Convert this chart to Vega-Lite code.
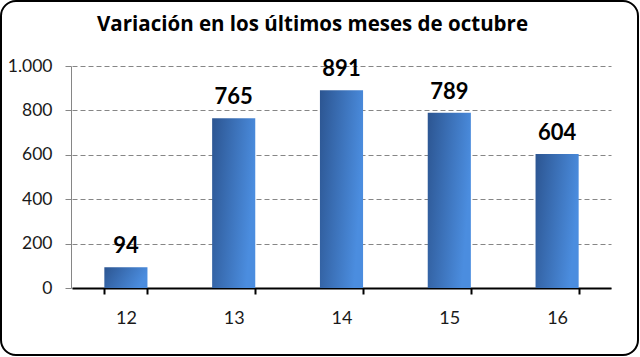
{
  "$schema": "https://vega.github.io/schema/vega-lite/v6.json",
  "autosize": "none",
  "width": 637,
  "height": 354,
  "padding": {"left": 1, "top": 1, "right": 2, "bottom": 2},
  "background": "white",
  "config": {
    "view": {"stroke": "black", "strokeWidth": 2, "cornerRadius": 15, "fill": "white"},
    "font": "Lato"
  },
  "title": {
    "text": "Variación en los últimos meses de octubre",
    "font": "Open Sans",
    "fontSize": 20.5,
    "fontWeight": "bold",
    "color": "black",
    "anchor": "middle",
    "dx": -7,
    "offset": -34
  },
  "data": {
    "values": [
      {"mes": "12", "valor": 94},
      {"mes": "13", "valor": 765},
      {"mes": "14", "valor": 891},
      {"mes": "15", "valor": 789},
      {"mes": "16", "valor": 604}
    ]
  },
  "encoding": {
    "x": {
      "field": "mes",
      "type": "nominal",
      "sort": null,
      "title": null,
      "scale": {"type": "band", "range": [71, 610], "paddingInner": 0.6, "paddingOuter": 0.3},
      "axis": {
        "orient": "bottom",
        "offset": -67,
        "labelAngle": 0,
        "domainColor": "black",
        "domainWidth": 2,
        "tickColor": "black",
        "tickWidth": 2,
        "tickSize": 6,
        "tickBand": "extent",
        "labelFontSize": 18,
        "labelColor": "#1a1a1a",
        "labelPadding": 15,
        "grid": false
      }
    },
    "y": {
      "field": "valor",
      "type": "quantitative",
      "title": null,
      "scale": {"domain": [0, 1000], "range": [287, 65], "nice": false, "zero": true},
      "axis": {
        "orient": "left",
        "offset": -70,
        "values": [0, 200, 400, 600, 800, 1000],
        "labelExpr": "replace(format(datum.value, ','), ',', '.')",
        "domainColor": "#868686",
        "domainWidth": 1,
        "tickColor": "#868686",
        "tickSize": 6,
        "labelFontSize": 17.5,
        "labelColor": "#1a1a1a",
        "labelPadding": 13,
        "grid": true,
        "gridColor": "#868686",
        "gridDash": [5, 3],
        "gridWidth": 1
      }
    }
  },
  "layer": [
    {
      "mark": {
        "type": "bar",
        "color": {
          "gradient": "linear",
          "x1": 0, "y1": 0, "x2": 1, "y2": 0.3,
          "stops": [
            {"offset": 0, "color": "#2c5591"},
            {"offset": 1, "color": "#4b8ddf"}
          ]
        }
      },
      "encoding": {"y2": {"datum": 0}}
    },
    {
      "mark": {"type": "text", "baseline": "alphabetic", "dy": -14, "fontSize": 22, "fontWeight": "bold", "color": "black", "font": "Lato"},
      "encoding": {"text": {"field": "valor", "type": "quantitative"}}
    }
  ]
}
